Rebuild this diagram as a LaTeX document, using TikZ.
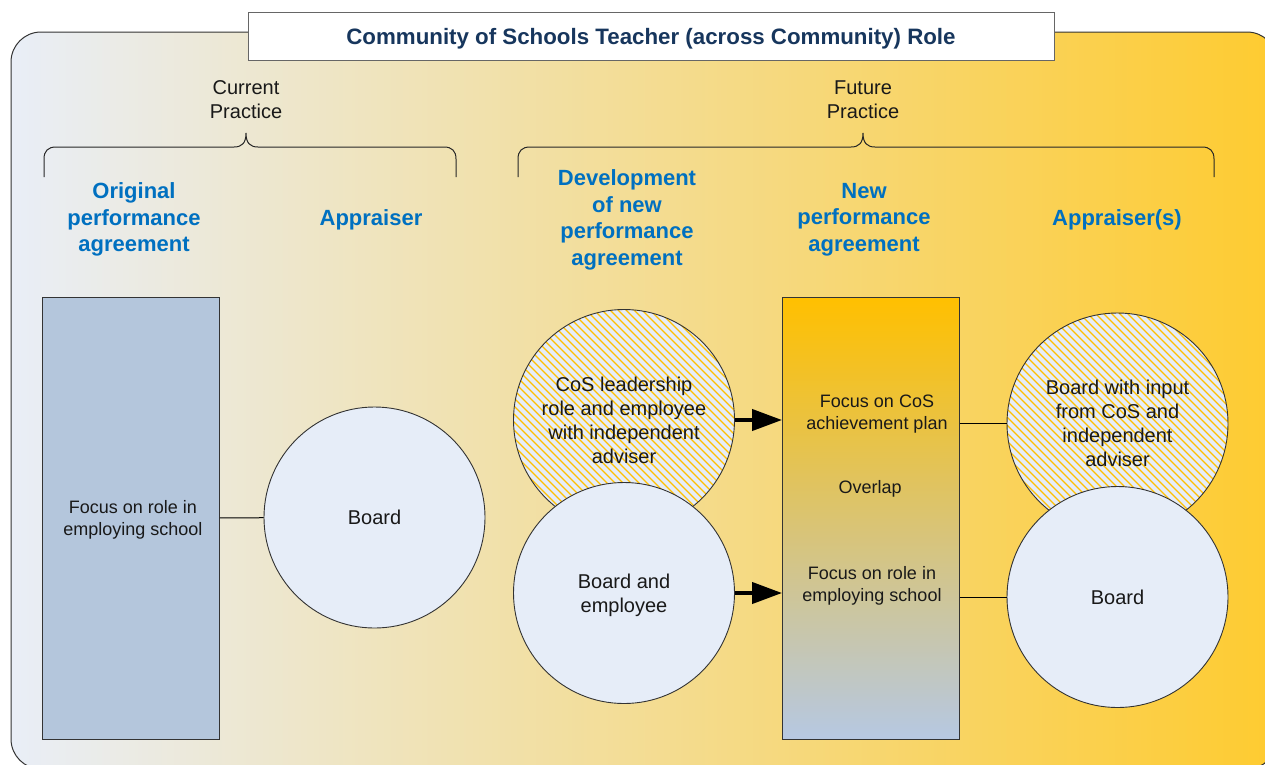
\documentclass[tikz,border=0pt]{standalone}
\usepackage{fontspec}
\setmainfont{Liberation Sans}
\usetikzlibrary{arrows.meta,calc}
\definecolor{bgL}{HTML}{E9EEF7}
\definecolor{bgM}{HTML}{F4E1A2}
\definecolor{bgR}{HTML}{FECB30}
\definecolor{hdr}{HTML}{0070C0}
\definecolor{navy}{HTML}{17365D}
\definecolor{circfill}{HTML}{E6EDF8}
\definecolor{rectfill}{HTML}{B4C6DC}
\definecolor{hatchcol}{HTML}{FFC000}
\definecolor{edge}{HTML}{333333}
\definecolor{mTop}{HTML}{FFC000}
\definecolor{mMid}{HTML}{D8C27E}
\definecolor{mBot}{HTML}{B6C8E2}
\begin{document}
\begin{tikzpicture}[x=1pt,y=-1pt,
  hdrtext/.style={font=\fontsize{22}{26.6}\selectfont\bfseries, text=hdr, align=center, inner sep=0pt},
  plain/.style={font=\fontsize{20}{24}\selectfont, align=center, inner sep=0pt, text=black!90},
  small/.style={font=\fontsize{18}{22}\selectfont, align=center, inner sep=0pt, text=black!90},
  circ/.style={circle, draw=edge, line width=0.9pt, fill=circfill, minimum size=221pt, inner sep=0pt,
    font=\fontsize{20}{24}\selectfont, align=center, text=black!90},
  hatched/.style={circ, path picture={
    \foreach \i in {-248,-240,...,248}{
      \draw[hatchcol, line width=1.2pt]
        ([xshift=\i pt-130pt, yshift=130pt]path picture bounding box.center) --
        ([xshift=\i pt+130pt, yshift=-130pt]path picture bounding box.center);}}},
  bar/.style={rectangle, draw=edge, line width=0.9pt, minimum width=177pt, minimum height=442pt, inner sep=0pt,
    font=\fontsize{18}{22}\selectfont, align=center, text=black!90},
  link/.style={draw=black, line width=1pt},
  bigarrow/.style={draw=black, line width=4pt, -{Triangle[length=30pt,width=21pt]}},
  brace/.style={draw=black!85, line width=1pt}
]
\useasboundingbox (0,0) rectangle (1265,764);
% background panel
\path[draw=edge, line width=1pt, left color=bgL, middle color=bgM, right color=bgR, rounded corners=30pt]
  (11,32) rectangle (1277,769);
% title
\node[draw=black!60, line width=1pt, fill=white, minimum width=806pt, minimum height=48pt, inner sep=0pt,
  text height=16pt, text depth=0pt,
  font=\fontsize{22.3}{26}\selectfont\bfseries, text=navy] (title) at (651,36)
  {Community of Schools Teacher (across Community) Role};
% practice labels and braces
\node[plain] (cur) at (246,100) {Current\\Practice};
\node[plain] (fut) at (863,100) {Future\\Practice};
\draw[brace] (44,177) -- (44,159) .. controls (44,151) and (48,147) .. (56,147) -- (234,147)
  .. controls (242,147) and (246,143) .. (246,133) .. controls (246,143) and (250,147) .. (258,147)
  -- (444,147) .. controls (452,147) and (456,151) .. (456,159) -- (456,177);
\draw[brace] (518,177) -- (518,159) .. controls (518,151) and (522,147) .. (530,147) -- (851,147)
  .. controls (859,147) and (863,143) .. (863,133) .. controls (863,143) and (867,147) .. (875,147)
  -- (1202,147) .. controls (1210,147) and (1214,151) .. (1214,159) -- (1214,177);
% headers
\node[hdrtext] (h1) at (134,219.5) {Original\\performance\\agreement};
\node[hdrtext] (h2) at (371,219.5) {Appraiser};
\node[hdrtext] (h3) at (627,220) {Development\\of new\\performance\\agreement};
\node[hdrtext] (h4) at (864,219.5) {New\\performance\\agreement};
\node[hdrtext] (h5) at (1117,219.5) {Appraiser(s)};
% current practice
\node[bar, fill=rectfill] (rL) at (131,518) {};
\node[small] (tL) at (133,519.5) {Focus on role in\\employing school};
\node[circ] (bL) at (374.5,517.5) {Board};
\draw[link] (rL) -- (bL);
% development
\node[hatched] (hC) at (624,420) {CoS leadership\\role and employee\\with independent\\adviser};
\node[circ] (bE) at (624,593) {};
\node[plain] (tE) at (624,595) {Board and\\employee};
% new agreement
\node[bar, top color=mTop, middle color=mMid, bottom color=mBot] (rM) at (871,518) {};
\node[small] (t1) at (877,414.5) {Focus on CoS\\achievement plan};
\node[small] (t2) at (870,489) {Overlap};
\node[small] (t3) at (872,585.5) {Focus on role in\\employing school};
\draw[bigarrow] (hC.east) -- (hC.east -| rM.west);
\draw[bigarrow] (bE.east) -- (bE.east -| rM.west);
% appraisers
\node[hatched] (hR) at (1117.5,423.5) {Board with input\\from CoS and\\independent\\adviser};
\node[circ] (bR) at (1117.5,597) {Board};
\draw[link] (rM.east |- hR.west) -- (hR.west);
\draw[link] (rM.east |- bR.west) -- (bR.west);
\end{tikzpicture}
\end{document}
